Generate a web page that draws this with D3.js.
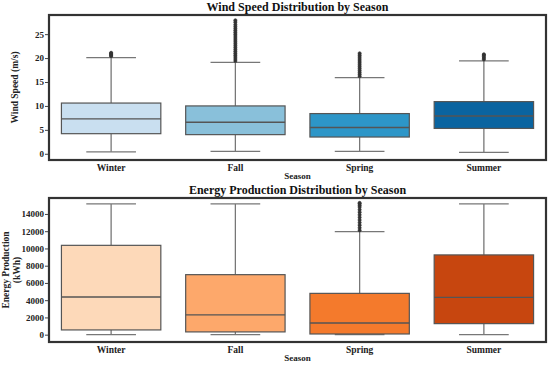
<!DOCTYPE html>
<html>
<head>
<meta charset="utf-8">
<script src="https://cdn.jsdelivr.net/npm/d3@7"></script>
<style>
  body { margin: 0; background: #fff; }
</style>
</head>
<body>
<script>
// seasons in plot order
var seasons = ["Winter", "Fall", "Spring", "Summer"];

// wind speed (m/s): lower whisker, Q1, median, Q3, upper whisker
var windLow    = [0.4, 0.5, 0.5, 0.3];
var windQ1     = [4.2, 4.0, 3.5, 5.3];
var windMedian = [7.3, 6.6, 5.5, 7.9];
var windQ3     = [10.6, 10.0, 8.4, 10.9];
var windHigh   = [20.1, 19.1, 15.9, 19.4];
var windOutliers = [
  [20.4, 20.6, 20.8, 21.0, 21.1],
  [19.4, 19.8, 20.2, 20.6, 21.0, 21.4, 21.8, 22.2, 22.6, 23.0, 23.4, 23.8, 24.2, 24.6, 25.0, 25.4, 25.8, 26.2, 26.6, 27.0, 27.5, 27.9],
  [16.2, 16.6, 17.0, 17.4, 17.8, 18.2, 18.6, 19.0, 19.4, 19.8, 20.2, 20.6, 21.0],
  [19.7, 20.0, 20.3, 20.6, 20.8]
];
var windTicks = [0, 5, 10, 15, 20, 25];

// energy production (kWh)
var energyLow    = [0, 0, 0, 0];
var energyQ1     = [550, 320, 80, 1280];
var energyMedian = [4370, 2290, 1360, 4330];
var energyQ3     = [10360, 6960, 4790, 9250];
var energyHigh   = [15160, 15160, 11950, 15160];
var energyOutliers = [
  [],
  [],
  [12100, 12400, 12700, 13000, 13300, 13600, 13900, 14200, 14500, 14800, 15000, 15200, 15280],
  []
];
var energyTicks = [0, 2000, 4000, 6000, 8000, 10000, 12000, 14000];

var blues   = ["#c9dff0", "#89c0da", "#2d96c8", "#0a64a0"];
var oranges = ["#fdd9b9", "#fda86b", "#f47a2c", "#c7460f"];

var serif = "'Liberation Serif', 'Times New Roman', 'DejaVu Serif', serif";

var width = 550, height = 367;

var svg = d3.select("body")
  .append("svg")
  .attr("width", width)
  .attr("height", height)
  .attr("font-family", serif)
  .attr("font-weight", "bold");

function drawPanel(opt) {
  var x = d3.scaleBand()
    .domain(seasons)
    .range([opt.left, opt.right])
    .paddingInner(0.2)
    .paddingOuter(0.1);

  var y = d3.scaleLinear()
    .domain(opt.domain)
    .range([opt.bottom, opt.top]);

  var g = svg.append("g");

  // boxes
  seasons.forEach(function(s, i) {
    var cx = x(s) + x.bandwidth() / 2;
    var bw = x.bandwidth();
    var lineCol = "#555";

    // whiskers
    g.append("line")
      .attr("x1", cx).attr("x2", cx)
      .attr("y1", y(opt.q3[i])).attr("y2", y(opt.high[i]))
      .attr("stroke", "#777").attr("stroke-width", 1.3);
    g.append("line")
      .attr("x1", cx).attr("x2", cx)
      .attr("y1", y(opt.q1[i])).attr("y2", y(opt.low[i]))
      .attr("stroke", "#777").attr("stroke-width", 1.3);
    g.append("line")
      .attr("x1", cx - bw / 4).attr("x2", cx + bw / 4)
      .attr("y1", y(opt.high[i])).attr("y2", y(opt.high[i]))
      .attr("stroke", "#777").attr("stroke-width", 1.3);
    g.append("line")
      .attr("x1", cx - bw / 4).attr("x2", cx + bw / 4)
      .attr("y1", y(opt.low[i])).attr("y2", y(opt.low[i]))
      .attr("stroke", "#777").attr("stroke-width", 1.3);

    // box
    g.append("rect")
      .attr("x", x(s))
      .attr("width", bw)
      .attr("y", y(opt.q3[i]))
      .attr("height", y(opt.q1[i]) - y(opt.q3[i]))
      .attr("fill", opt.colors[i])
      .attr("stroke", lineCol)
      .attr("stroke-width", 1.2);

    // median
    g.append("line")
      .attr("x1", x(s)).attr("x2", x(s) + bw)
      .attr("y1", y(opt.median[i])).attr("y2", y(opt.median[i]))
      .attr("stroke", lineCol).attr("stroke-width", 1.4);

    // outliers
    g.selectAll(null)
      .data(opt.outliers[i])
      .enter()
      .append("circle")
      .attr("cx", cx)
      .attr("cy", function(d) { return y(d); })
      .attr("r", 1.6)
      .attr("fill", "#333")
      .attr("stroke", "#333")
      .attr("stroke-width", 0.6);
  });

  // frame
  g.append("rect")
    .attr("x", opt.left)
    .attr("y", opt.top)
    .attr("width", opt.right - opt.left)
    .attr("height", opt.bottom - opt.top)
    .attr("fill", "none")
    .attr("stroke", "#333")
    .attr("stroke-width", 2.2);

  // y axis
  var yAxis = g.append("g")
    .attr("transform", "translate(" + (opt.left - 1) + ",0)")
    .call(d3.axisLeft(y).tickValues(opt.ticks).tickFormat(d3.format("d")).tickSize(3).tickPadding(1));
  yAxis.attr("font-family", serif).attr("font-size", 9);
  yAxis.select(".domain").remove();
  yAxis.selectAll("line").attr("stroke", "#444");
  yAxis.selectAll("text").attr("fill", "#222");

  // x labels
  g.selectAll(null)
    .data(seasons)
    .enter()
    .append("text")
    .attr("x", function(d) { return x(d) + x.bandwidth() / 2; })
    .attr("y", opt.bottom + 11)
    .attr("text-anchor", "middle")
    .attr("font-size", 9.5)
    .attr("fill", "#222")
    .text(function(d) { return d; });

  // title
  g.append("text")
    .attr("x", (opt.left + opt.right) / 2)
    .attr("y", opt.top - 4)
    .attr("text-anchor", "middle")
    .attr("font-size", 12)
    .attr("fill", "#111")
    .text(opt.title);

  // x axis title
  g.append("text")
    .attr("x", (opt.left + opt.right) / 2)
    .attr("y", opt.bottom + 19)
    .attr("text-anchor", "middle")
    .attr("font-size", 9)
    .attr("fill", "#222")
    .text("Season");

  // y axis title (may be multi-line)
  var yt = g.append("text")
    .attr("transform", "translate(" + opt.yTitleX + "," + ((opt.top + opt.bottom) / 2) + ")rotate(-90)")
    .attr("text-anchor", "middle")
    .attr("font-size", 9.5)
    .attr("fill", "#222");
  opt.yTitle.forEach(function(t, k) {
    yt.append("tspan")
      .attr("x", 0)
      .attr("dy", k === 0 ? 0 : 11)
      .text(t);
  });
}

drawPanel({
  title: "Wind Speed Distribution by Season",
  yTitle: ["Wind Speed (m/s)"],
  yTitleX: 18,
  left: 49, right: 546, top: 15, bottom: 160,
  domain: [-1.3, 29],
  ticks: windTicks,
  colors: blues,
  low: windLow, q1: windQ1, median: windMedian, q3: windQ3, high: windHigh,
  outliers: windOutliers
});

drawPanel({
  title: "Energy Production Distribution by Season",
  yTitle: ["Energy Production", "(kWh)"],
  yTitleX: 9,
  left: 49, right: 546, top: 198, bottom: 342,
  domain: [-850, 15850],
  ticks: energyTicks,
  colors: oranges,
  low: energyLow, q1: energyQ1, median: energyMedian, q3: energyQ3, high: energyHigh,
  outliers: energyOutliers
});
</script>
</body>
</html>
